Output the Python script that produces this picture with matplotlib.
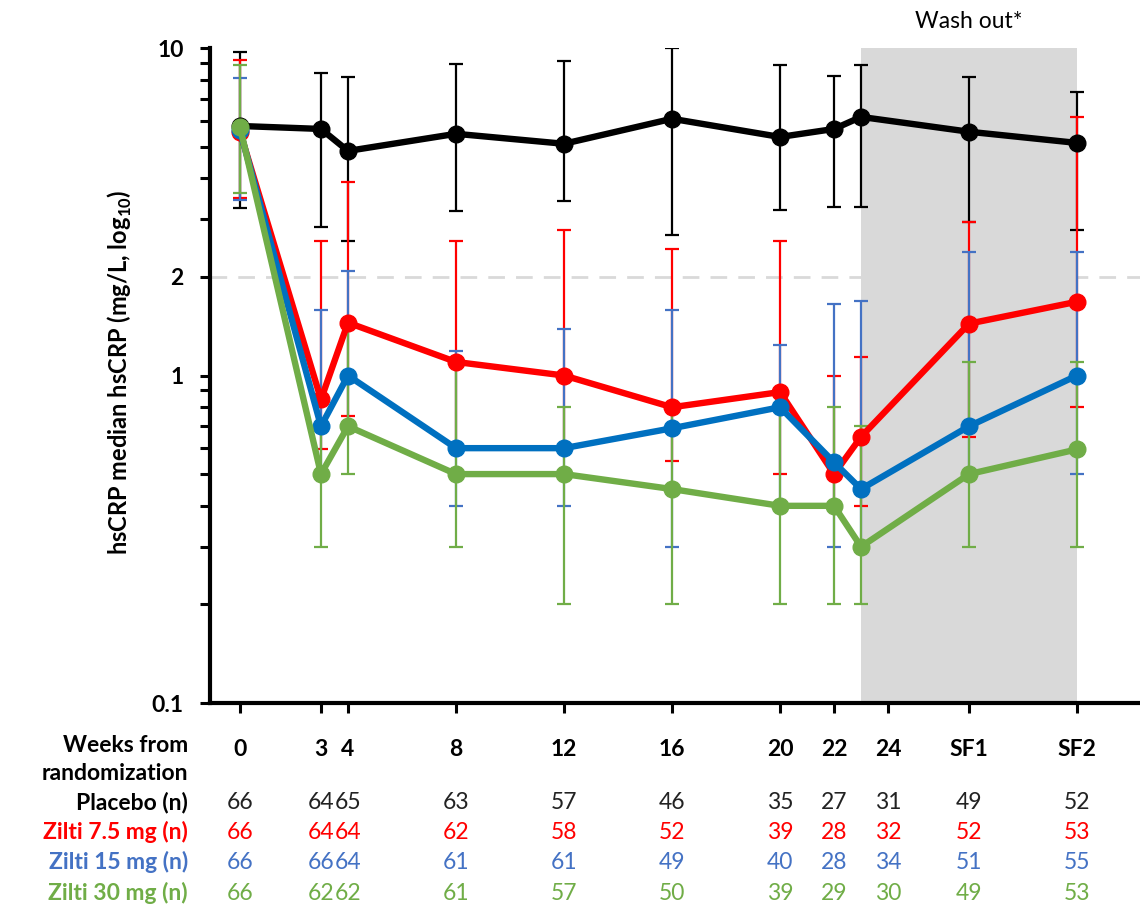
import numpy as np
import matplotlib
matplotlib.use('Agg')
import matplotlib.pyplot as plt
from matplotlib.ticker import FixedLocator, NullFormatter
import matplotlib.transforms as mtransforms

plt.rcParams['font.family'] = ['Lato', 'DejaVu Sans']
plt.rcParams['mathtext.fontset'] = 'custom'
plt.rcParams['mathtext.rm'] = 'Lato'
plt.rcParams['mathtext.bf'] = 'Lato:bold'

# Visit positions (weeks) and axis labels
visit_x = [0, 3, 4, 8, 12, 16, 20, 22, 23, 27, 31]
tick_pos = [0, 3, 4, 8, 12, 16, 20, 22, 24, 27, 31]
tick_labels = ['0', '3', '4', '8', '12', '16', '20', '22', '24', 'SF1', 'SF2']

# Median hsCRP (mg/L) with upper / lower bar ends
placebo = [5.78, 5.66, 4.85, 5.47, 5.10, 6.08, 5.35, 5.66, 6.16, 5.55, 5.13]
placebo_hi = [9.72, 8.39, 8.16, 8.94, 9.13, 10.0, 8.88, 8.22, 8.88, 8.16, 7.34]
placebo_lo = [3.25, 2.85, 2.58, 3.18, 3.42, 2.69, 3.21, 3.28, 3.28, 2.95, 2.79]

zilti75 = [5.55, 0.845, 1.45, 1.10, 1.0, 0.80, 0.89, 0.50, 0.65, 1.44, 1.68]
zilti75_hi = [9.19, 2.58, 3.90, 2.58, 2.79, 2.44, 2.58, 1.0, 1.14, 2.95, 6.16]
zilti75_lo = [3.49, 0.595, 0.75, 0.60, 0.60, 0.547, 0.50, 0.40, 0.40, 0.65, 0.80]

zilti15 = [5.6, 0.70, 1.0, 0.60, 0.60, 0.69, 0.80, 0.543, 0.45, 0.70, 1.0]
zilti15_hi = [8.10, 1.59, 2.08, 1.19, 1.39, 1.59, 1.24, 1.65, 1.69, 2.39, 2.39]
zilti15_lo = [3.44, 0.50, 0.70, 0.40, 0.40, 0.30, 0.40, 0.30, 0.30, 0.50, 0.50]

zilti30 = [5.74, 0.50, 0.70, 0.50, 0.50, 0.45, 0.40, 0.40, 0.30, 0.50, 0.595]
zilti30_hi = [8.88, 0.70, 1.45, 1.10, 0.80, 0.80, 0.89, 0.80, 0.70, 1.10, 1.10]
zilti30_lo = [3.61, 0.30, 0.50, 0.30, 0.20, 0.20, 0.20, 0.20, 0.20, 0.30, 0.30]

# Patients per visit
placebo_n = [66, 64, 65, 63, 57, 46, 35, 27, 31, 49, 52]
zilti75_n = [66, 64, 64, 62, 58, 52, 39, 28, 32, 52, 53]
zilti15_n = [66, 66, 64, 61, 61, 49, 40, 28, 34, 51, 55]
zilti30_n = [66, 62, 62, 61, 57, 50, 39, 29, 30, 49, 53]

series = [
    ('Placebo (n)', placebo, placebo_hi, placebo_lo, placebo_n, 'black', 'black', '#222222'),
    ('Zilti 7.5 mg (n)', zilti75, zilti75_hi, zilti75_lo, zilti75_n, '#FF0000', '#FF0000', '#FF0000'),
    ('Zilti 15 mg (n)', zilti15, zilti15_hi, zilti15_lo, zilti15_n, '#0070C0', '#4472C4', '#4472C4'),
    ('Zilti 30 mg (n)', zilti30, zilti30_hi, zilti30_lo, zilti30_n, '#70AD47', '#70AD47', '#70AD47'),
]

FS = 16.5

fig = plt.figure(figsize=(11.4, 9.05), dpi=100)
ax = fig.add_axes([210 / 1140, 1 - 703 / 905, 930 / 1140, 655 / 905])

ax.set_yscale('log')
ax.set_ylim(0.1, 10)
ax.set_xlim(-1.11, 33.33)

# wash-out shading and 2 mg/L reference
ax.axvspan(23, 31, color='#D9D9D9', zorder=0, lw=0)
ax.axhline(2, color='#D9D9D9', lw=2, ls=(0, (6, 4)), zorder=1)

# error bars first, then lines on top
for i, (name, med, hi, lo, n, lc, ec, tc) in enumerate(series):
    med = np.array(med)
    yerr = [med - np.array(lo), np.array(hi) - med]
    ax.errorbar(visit_x, med, yerr=yerr, fmt='none', ecolor=ec, elinewidth=1.6,
                capsize=5, capthick=1.6, zorder=2 + i)
for i, (name, med, hi, lo, n, lc, ec, tc) in enumerate(series):
    ax.plot(visit_x, med, color=lc, lw=4.6, marker='o', markersize=12,
            zorder=10 + i, solid_joinstyle='round')

for s in ['top', 'right']:
    ax.spines[s].set_visible(False)
for s in ['left', 'bottom']:
    ax.spines[s].set_linewidth(3)
    ax.spines[s].set_zorder(20)

ax.yaxis.set_major_locator(FixedLocator([0.1, 1, 2, 10]))
ax.set_yticklabels(['0.1', '1', '2', '10'], fontsize=FS, fontweight='bold')
ax.yaxis.set_minor_locator(FixedLocator([0.2, 0.3, 0.4, 0.5, 0.6, 0.7, 0.8, 0.9,
                                         3, 4, 5, 6, 7, 8, 9]))
ax.yaxis.set_minor_formatter(NullFormatter())
ax.tick_params(axis='y', which='both', direction='out', length=7, width=2.2, pad=12)

ax.set_xticks(tick_pos)
ax.set_xticklabels(tick_labels, fontsize=FS, fontweight='bold')
ax.tick_params(axis='x', direction='out', length=7, width=2.2, pad=19)

fig.text(120 / 1140, 1 - 372 / 905, r'hsCRP median hsCRP (mg/L, log$_\mathbf{10}$)',
         rotation=90, ha='center', va='center', fontsize=FS + 0.5, fontweight='bold')

trans_top = mtransforms.blended_transform_factory(ax.transData, fig.transFigure)
ax.text(27, 1 - 22 / 905, 'Wash out*', transform=trans_top, ha='center', va='center',
        fontsize=FS, clip_on=False)

# table under the axis
fig.text(188 / 1140, 1 - 745 / 905, 'Weeks from', ha='right', va='center',
         fontsize=FS, fontweight='bold')
fig.text(188 / 1140, 1 - 773 / 905, 'randomization', ha='right', va='center',
         fontsize=FS, fontweight='bold')
row_y = [802, 832, 862, 893]
for (name, med, hi, lo, n, lc, ec, tc), py in zip(series, row_y):
    fy = 1 - py / 905
    fig.text(188 / 1140, fy, name, ha='right', va='center', fontsize=FS,
             fontweight='bold', color=tc if tc != '#222222' else 'black')
    for xp, val in zip(tick_pos, n):
        ax.text(xp, fy, str(val), transform=trans_top, ha='center', va='center',
                fontsize=FS, color=tc, clip_on=False)

fig.savefig('out.png', dpi=100)
